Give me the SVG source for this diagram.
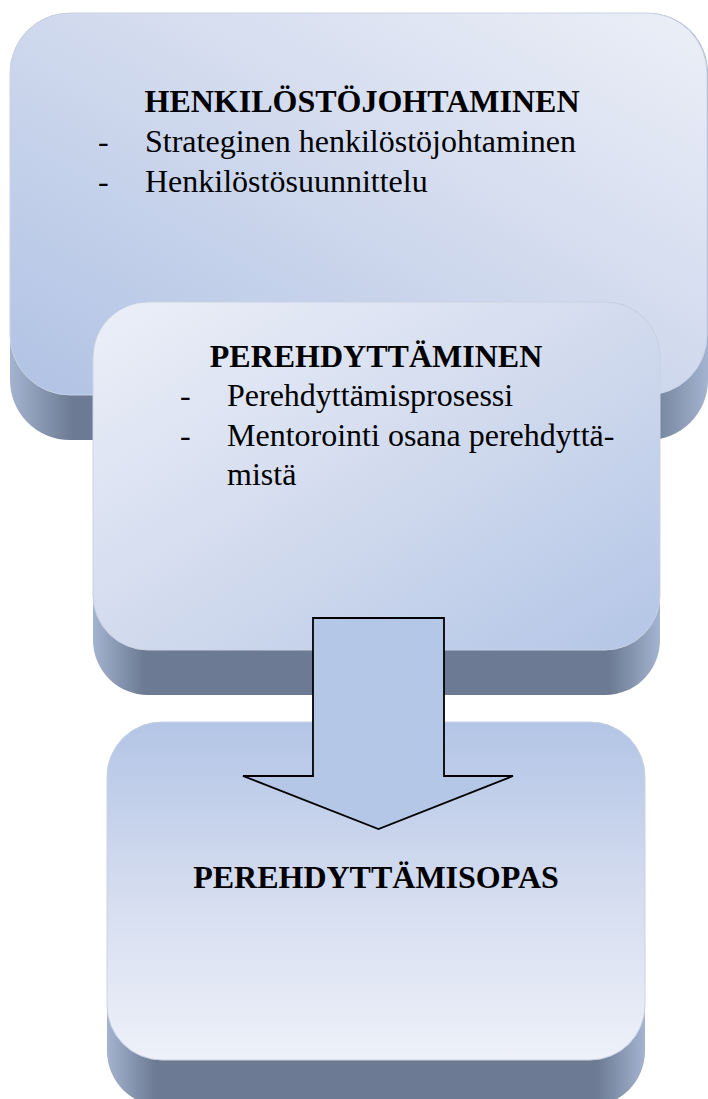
<svg xmlns="http://www.w3.org/2000/svg" width="708" height="1099" viewBox="0 0 708 1099">
<style>
.t{font-family:"Liberation Serif","Times New Roman",serif;font-size:32px;fill:#000}
.b{font-weight:bold;text-anchor:middle}
.face{stroke:#c9d2e4;stroke-width:1}
</style>
<defs>
<linearGradient id="bev" x1="0" y1="0" x2="1" y2="0">
<stop offset="0" stop-color="#a4b3cf"/>
<stop offset="0.09" stop-color="#6c7a93"/>
<stop offset="0.91" stop-color="#6c7a93"/>
<stop offset="1" stop-color="#a4b3cf"/>
</linearGradient>
<linearGradient id="g1" x1="1" y1="0" x2="0" y2="1">
<stop offset="0" stop-color="#eceff7"/>
<stop offset="0.4" stop-color="#d5ddef"/>
<stop offset="1" stop-color="#b0c2e4"/>
</linearGradient>
<linearGradient id="g2" x1="0" y1="0" x2="1" y2="1">
<stop offset="0" stop-color="#eceff8"/>
<stop offset="0.5" stop-color="#d2dbee"/>
<stop offset="1" stop-color="#b3c5e6"/>
</linearGradient>
<linearGradient id="g3" x1="0" y1="0" x2="0" y2="1">
<stop offset="0" stop-color="#b3c5e6"/>
<stop offset="0.5" stop-color="#d4dcef"/>
<stop offset="1" stop-color="#eef1f9"/>
</linearGradient>
</defs>
<g id="node-henkilostojohtaminen">
<rect x="10" y="13" width="698" height="427" rx="60" ry="60" fill="url(#bev)"/>
<rect class="face" x="10" y="13" width="697" height="382" rx="60" ry="60" fill="url(#g1)"/>
<text class="t b" x="362" y="112">HENKILÖSTÖJOHTAMINEN</text>
<text class="t" x="98" y="152">-</text>
<text class="t" x="145" y="152">Strateginen henkilöstöjohtaminen</text>
<text class="t" x="98" y="192">-</text>
<text class="t" x="145" y="192">Henkilöstösuunnittelu</text>
</g>
<g id="node-perehdyttaminen">
<rect x="93" y="302" width="567" height="393" rx="55" ry="55" fill="url(#bev)"/>
<rect class="face" x="93" y="302" width="567" height="348" rx="55" ry="55" fill="url(#g2)"/>
<text class="t b" x="376" y="367">PEREHDYTTÄMINEN</text>
<text class="t" x="180" y="406">-</text>
<text class="t" x="227" y="406">Perehdyttämisprosessi</text>
<text class="t" x="180" y="446">-</text>
<text class="t" x="227" y="446">Mentorointi osana perehdyttä-</text>
<text class="t" x="227" y="485">mistä</text>
</g>
<g id="node-perehdyttamisopas">
<rect x="107" y="722" width="538" height="384" rx="55" ry="55" fill="url(#bev)"/>
<rect class="face" x="107" y="722" width="538" height="338" rx="55" ry="55" fill="url(#g3)"/>
<text class="t b" x="376" y="888">PEREHDYTTÄMISOPAS</text>
</g>
<g id="connectors">
<polygon points="313,618 444,618 444,776 513,776 378.5,829 243,776 313,776" fill="#b4c7e7" stroke="#000" stroke-width="1.8" stroke-linejoin="miter"/>
</g>
</svg>
